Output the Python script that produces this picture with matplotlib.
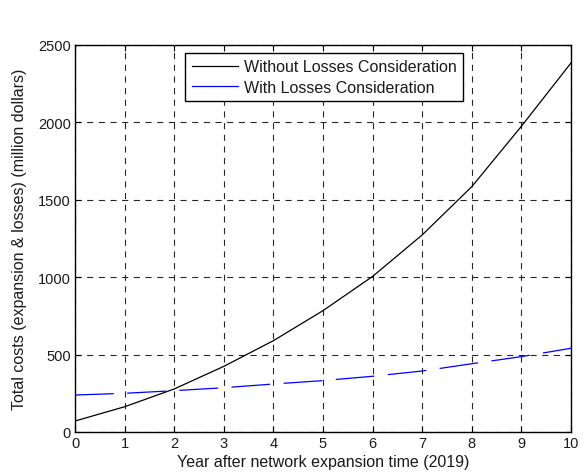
import matplotlib
matplotlib.use("Agg")
import matplotlib.pyplot as plt

# values (million dollars)
years = [0, 1, 2, 3, 4, 5, 6, 7, 8, 9, 10]
without_losses = [71, 163, 278, 424, 590, 784, 1005, 1273, 1585, 1975, 2384]
with_losses = [239, 250, 267, 286, 310, 332, 360, 394, 441, 487, 541]

xticks = list(range(0, 11))
yticks = [0, 500, 1000, 1500, 2000, 2500]

plt.rcParams["font.family"] = ["Liberation Sans", "DejaVu Sans"]
plt.rcParams["font.size"] = 11.5

fig = plt.figure(figsize=(5.84, 4.77), dpi=100)
ax = fig.add_axes([75 / 584, 1 - 433 / 477, 496 / 584, 387 / 477])

ax.plot(years, without_losses, color="black", lw=0.9,
        label="Without Losses Consideration")
ax.plot(years, with_losses, color="blue", lw=0.9, dashes=(31, 10.8),
        label="With Losses Consideration")

ax.set_xlim(0, 10)
ax.set_ylim(0, 2500)
ax.set_xticks(xticks)
ax.set_yticks(yticks)
ax.tick_params(direction="in", top=True, right=True, length=4, width=0.8,
               labelsize=10.5, pad=3, labelcolor="0.1")
for s in ax.spines.values():
    s.set_linewidth(1.0)

ax.grid(True, color="0.15", lw=0.8, dashes=(5.5, 5.0))
ax.set_axisbelow(True)

ax.set_xlabel("Year after network expansion time (2019)", labelpad=3,
              fontsize=11.5, color="0.1")
ax.set_ylabel("Total costs (expansion & losses) (million dollars)",
              labelpad=8, fontsize=11.5, color="0.1")

leg = ax.legend(loc="upper center", bbox_to_anchor=(0.502, 0.98),
                borderaxespad=0, fancybox=False, framealpha=1,
                edgecolor="black", handlelength=2.9, borderpad=0.4,
                labelspacing=0.35, handletextpad=0.35, fontsize=11.5)
leg.get_frame().set_linewidth(1.0)
for t in leg.get_texts():
    t.set_color("0.1")
for h in leg.get_lines():
    h.set_linestyle("-")

fig.savefig("out.png", dpi=100)
